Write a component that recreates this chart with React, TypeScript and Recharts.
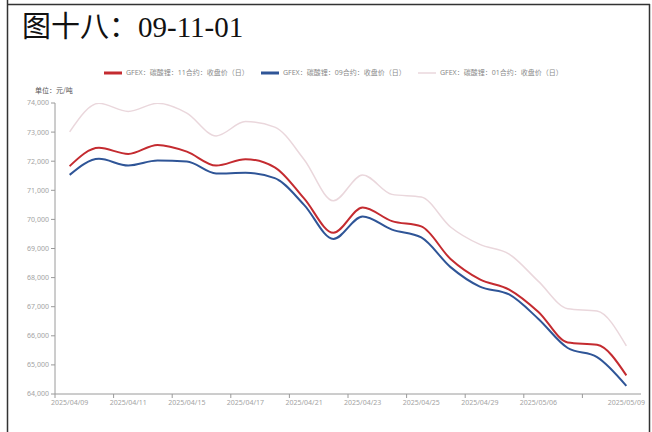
import React from 'react';
import { LineChart, Line, XAxis, YAxis, Legend } from 'recharts';

const dates = [
  '2025/04/09', '2025/04/10', '2025/04/11', '2025/04/14', '2025/04/15',
  '2025/04/16', '2025/04/17', '2025/04/18', '2025/04/21', '2025/04/22',
  '2025/04/23', '2025/04/24', '2025/04/25', '2025/04/28', '2025/04/29',
  '2025/04/30', '2025/05/06', '2025/05/07', '2025/05/08', '2025/05/09',
];
const close11 = [71830, 72460, 72250, 72560, 72330, 71850, 72070, 71790, 70720, 69540, 70410, 69940, 69760, 68640, 67940, 67590, 66820, 65770, 65690, 64640];
const close09 = [71530, 72080, 71850, 72020, 71990, 71580, 71600, 71420, 70500, 69330, 70100, 69650, 69380, 68360, 67690, 67420, 66580, 65580, 65270, 64280];
const close01 = [73010, 73990, 73710, 73990, 73650, 72870, 73360, 73170, 72060, 70640, 71530, 70860, 70770, 69740, 69140, 68810, 67870, 66930, 66850, 65650];
const yTicks = [64000, 65000, 66000, 67000, 68000, 69000, 70000, 71000, 72000, 73000, 74000];
const xTickIdx = [0, 2, 4, 6, 8, 10, 12, 14, 16, 18, 19];
const xLabelIdx = [0, 2, 4, 6, 8, 10, 12, 14, 16, 19];
const seriesKeys = ['c11', 'c09', 'c01'];
const seriesNames = [
  'GFEX：碳酸锂：11合约：收盘价（日）',
  'GFEX：碳酸锂：09合约：收盘价（日）',
  'GFEX：碳酸锂：01合约：收盘价（日）',
];
const seriesColors = ['#C42B30', '#2F5597', '#EAD7DC'];
const seriesWidths = [2, 2, 1.5];
const title = '图十八：09-11-01';
const unitLabel = '单位：元/吨';

const data = dates.map((d, i) => ({
  idx: i,
  date: d,
  c11: close11[i],
  c09: close09[i],
  c01: close01[i],
}));

const AXIS_GREY = '#9a9a9a';
const TICK_FONT = "'Noto Sans', 'Noto Sans CJK SC', sans-serif";

const XTick = (props: any) => {
  const { x, y, payload } = props;
  const i = payload.value as number;
  const w = Number(props.width) || 586;
  const band = w / dates.length;
  const show = xLabelIdx.includes(i);
  return (
    <g>
      {i < dates.length - 1 && (
        <line x1={x - band / 2} x2={x - band / 2} y1={y - 6} y2={y - 2} stroke={AXIS_GREY} strokeWidth={1} />
      )}
      {show && (
        <text x={x} y={y} dy="0.71em" textAnchor="middle" fontSize={7} fill="#a3a3a3" fontFamily={TICK_FONT}>
          {dates[i]}
        </text>
      )}
    </g>
  );
};

const LegendContent = () => (
  <svg width={652} height={14} style={{ display: 'block' }}>
    {seriesNames.map((name, i) => (
      <g key={name} transform={`translate(${104 + i * 157}, 0)`}>
        <line x1={0} x2={18} y1={7} y2={7} stroke={seriesColors[i]} strokeWidth={i === 2 ? 1.5 : 3} />
        <text x={22} y={7} dy="0.35em" fontSize={7} fill="#8a8a8a" fontFamily={TICK_FONT}>
          {name}
        </text>
      </g>
    ))}
  </svg>
);

export default function App() {
  return (
    <div style={{ position: 'absolute', left: 0, top: 0, width: 652, height: 432, background: '#fff', overflow: 'hidden' }}>
      <div
        style={{
          position: 'absolute',
          left: 22,
          top: 11,
          fontSize: 29,
          lineHeight: '33px',
          fontFamily: "'Liberation Serif', 'Noto Sans CJK SC', serif",
          color: '#111',
          whiteSpace: 'nowrap',
        }}
      >
        {title}
      </div>
      <LineChart
        width={652}
        height={432}
        data={data}
        margin={{ top: 103, right: 11, bottom: 0, left: 8 }}
        style={{ position: 'absolute', left: 0, top: 0 }}
      >
        <XAxis
          dataKey="idx"
          type="number"
          domain={[-0.5, dates.length - 0.5]}
          ticks={xTickIdx}
          interval={0}
          tickLine={false}
          tickSize={6}
          tickMargin={0}
          height={38}
          axisLine={{ stroke: AXIS_GREY }}
          tick={<XTick />}
          allowDataOverflow
        />
        <YAxis
          yAxisId="left"
          domain={[64000, 74000]}
          ticks={yTicks}
          interval={0}
          width={47}
          tickSize={4}
          tickMargin={2}
          tickFormatter={(v: number) => v.toLocaleString('en-US')}
          tick={{ fontSize: 7, fill: '#a3a3a3', fontFamily: TICK_FONT }}
          axisLine={{ stroke: AXIS_GREY }}
          tickLine={{ stroke: AXIS_GREY }}
          allowDataOverflow
        />
        <YAxis
          yAxisId="right"
          orientation="right"
          domain={[64000, 74000]}
          width={0}
          tick={false}
          tickLine={false}
          axisLine={{ stroke: '#c8c8c8' }}
        />
        <Legend
          layout="horizontal"
          verticalAlign="middle"
          align="center"
          content={<LegendContent />}
          wrapperStyle={{ position: 'absolute', top: 66, left: 0, width: 652, height: 14 }}
        />
        {[2, 1, 0].map((k) => (
          <Line
            key={seriesKeys[k]}
            yAxisId="left"
            type="monotone"
            dataKey={seriesKeys[k]}
            name={seriesNames[k]}
            stroke={seriesColors[k]}
            strokeWidth={seriesWidths[k]}
            dot={false}
            activeDot={false}
            isAnimationActive={false}
          />
        ))}
      </LineChart>
      <svg
        width={652}
        height={432}
        style={{ position: 'absolute', left: 0, top: 0, pointerEvents: 'none' }}
      >
        <text x={35} y={91} dy="0.35em" fontSize={7} fill="#555" fontFamily="'Noto Sans CJK SC', sans-serif">
          {unitLabel}
        </text>
        <line x1={7.5} x2={7.5} y1={0} y2={432} stroke="#333" strokeWidth={1.5} />
        <line x1={7} x2={650} y1={4.5} y2={4.5} stroke="#333" strokeWidth={1.5} />
        <line x1={649.5} x2={649.5} y1={4} y2={432} stroke="#333" strokeWidth={1.5} />
      </svg>
    </div>
  );
}
